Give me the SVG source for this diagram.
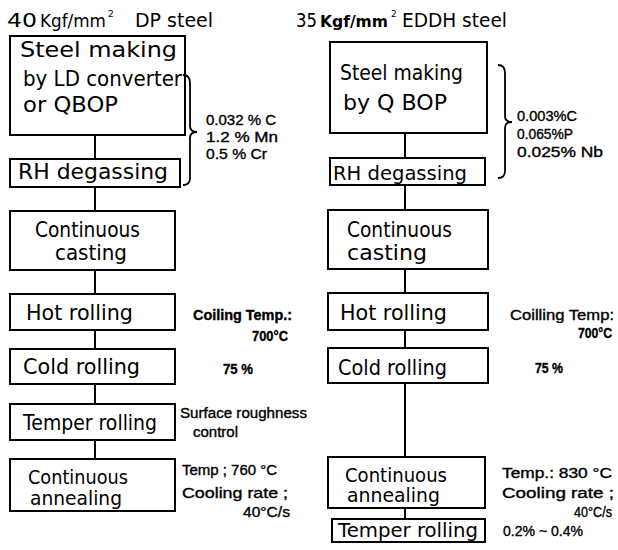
<svg xmlns="http://www.w3.org/2000/svg" width="618" height="550" viewBox="0 0 618 550">
<style>
.box{fill:#fff;stroke:#000;stroke-width:2}
.bt{font-family:"DejaVu Sans","Liberation Sans",sans-serif;font-size:21px;fill:#000}
.sm{font-size:19px}
.an{font-family:"Liberation Sans",Arial,sans-serif;font-size:14px;fill:#000;stroke:#000;stroke-width:0.35}
.ti{font-family:"DejaVu Sans","Liberation Sans",sans-serif;font-size:19px;fill:#000}
.ln{stroke:#000;stroke-width:2;fill:none}
.br{stroke:#000;stroke-width:1.8;fill:none}
</style>
<rect width="618" height="550" fill="#fff"/>

<g id="titles">
<text class="ti" x="7" y="27"><tspan textLength="30" lengthAdjust="spacingAndGlyphs">40</tspan><tspan x="40" font-size="17" textLength="66" lengthAdjust="spacingAndGlyphs">Kgf/mm</tspan><tspan x="108" y="17" font-size="9">2</tspan><tspan x="135" y="27" textLength="78" lengthAdjust="spacingAndGlyphs">DP  steel</tspan></text>
<text class="ti" x="296" y="27"><tspan textLength="21" lengthAdjust="spacingAndGlyphs">35</tspan><tspan x="320" font-size="15" font-weight="bold" textLength="68" lengthAdjust="spacingAndGlyphs">Kgf/mm</tspan><tspan x="391" y="17" font-size="9">2</tspan><tspan x="402" y="27" textLength="105" lengthAdjust="spacingAndGlyphs">EDDH  steel</tspan></text>
</g>

<g id="connectors">
<line class="ln" x1="95" y1="135" x2="95" y2="159"/>
<line class="ln" x1="95" y1="187" x2="95" y2="211"/>
<line class="ln" x1="95" y1="270" x2="95" y2="294"/>
<line class="ln" x1="95" y1="330" x2="95" y2="349"/>
<line class="ln" x1="95" y1="384" x2="95" y2="404"/>
<line class="ln" x1="95" y1="440" x2="95" y2="459"/>
<line class="ln" x1="405" y1="133" x2="405" y2="158"/>
<line class="ln" x1="405" y1="185" x2="405" y2="210"/>
<line class="ln" x1="405" y1="269" x2="405" y2="293"/>
<line class="ln" x1="405" y1="330" x2="405" y2="348"/>
<line class="ln" x1="405" y1="383" x2="405" y2="457"/>
<line class="ln" x1="405" y1="508" x2="405" y2="519"/>
</g>

<g id="L-steelmaking">
<rect class="box" x="10" y="36" width="175" height="99"/>
<text class="bt" x="20" y="57" font-size="22" textLength="157" lengthAdjust="spacingAndGlyphs">Steel  making</text>
<text class="bt" x="23" y="86" textLength="159" lengthAdjust="spacingAndGlyphs">by LD converter</text>
<text class="bt" x="23" y="112" textLength="95" lengthAdjust="spacingAndGlyphs">or  QBOP</text>
</g>
<g id="L-rh">
<rect class="box" x="10" y="159" width="170" height="28"/>
<text class="bt" x="18" y="179" textLength="150" lengthAdjust="spacingAndGlyphs">RH  degassing</text>
</g>
<g id="L-cc">
<rect class="box" x="10" y="211" width="165" height="59"/>
<text class="bt" x="35" y="237" textLength="105" lengthAdjust="spacingAndGlyphs">Continuous</text>
<text class="bt" x="55" y="260" textLength="72" lengthAdjust="spacingAndGlyphs">casting</text>
</g>
<g id="L-hr">
<rect class="box" x="10" y="294" width="165" height="36"/>
<text class="bt" x="26" y="320" textLength="107" lengthAdjust="spacingAndGlyphs">Hot  rolling</text>
</g>
<g id="L-cr">
<rect class="box" x="10" y="349" width="165" height="35"/>
<text class="bt" x="23" y="374" textLength="117" lengthAdjust="spacingAndGlyphs">Cold  rolling</text>
</g>
<g id="L-tr">
<rect class="box" x="10" y="404" width="165" height="36"/>
<text class="bt" x="23" y="430" textLength="134" lengthAdjust="spacingAndGlyphs">Temper  rolling</text>
</g>
<g id="L-ca">
<rect class="box" x="10" y="459" width="165" height="52"/>
<text class="bt sm" x="28" y="484" textLength="100" lengthAdjust="spacingAndGlyphs">Continuous</text>
<text class="bt sm" x="30" y="505" textLength="92" lengthAdjust="spacingAndGlyphs">annealing</text>
</g>

<g id="R-steelmaking">
<rect class="box" x="330" y="42" width="157" height="91"/>
<text class="bt" x="340" y="80" textLength="123" lengthAdjust="spacingAndGlyphs">Steel  making</text>
<text class="bt" x="343" y="110" textLength="104" lengthAdjust="spacingAndGlyphs">by    Q BOP</text>
</g>
<g id="R-rh">
<rect class="box" x="330" y="158" width="155" height="27"/>
<text class="bt sm" x="333" y="180" textLength="134" lengthAdjust="spacingAndGlyphs">RH degassing</text>
</g>
<g id="R-cc">
<rect class="box" x="328" y="210" width="160" height="59"/>
<text class="bt" x="347" y="237" textLength="105" lengthAdjust="spacingAndGlyphs">Continuous</text>
<text class="bt" x="347" y="260" textLength="80" lengthAdjust="spacingAndGlyphs">casting</text>
</g>
<g id="R-hr">
<rect class="box" x="328" y="293" width="160" height="37"/>
<text class="bt" x="340" y="320" textLength="107" lengthAdjust="spacingAndGlyphs">Hot  rolling</text>
</g>
<g id="R-cr">
<rect class="box" x="328" y="348" width="160" height="35"/>
<text class="bt" x="338" y="375" textLength="109" lengthAdjust="spacingAndGlyphs">Cold  rolling</text>
</g>
<g id="R-ca">
<rect class="box" x="328" y="457" width="157" height="51"/>
<text class="bt sm" x="345" y="482" textLength="102" lengthAdjust="spacingAndGlyphs">Continuous</text>
<text class="bt sm" x="347" y="502" textLength="93" lengthAdjust="spacingAndGlyphs">annealing</text>
</g>
<g id="R-tr">
<rect class="box" x="332" y="519" width="153" height="23"/>
<text class="bt sm" x="338" y="537" textLength="140" lengthAdjust="spacingAndGlyphs">Temper  rolling</text>
</g>

<g id="L-annotations">
<path class="br" d="M183,75 Q190,75 190,83 L190,126 Q190,132 197,132 Q190,132 190,138 L190,178 Q190,185 183,185"/>
<text class="an" x="206" y="125" font-size="15" textLength="70" lengthAdjust="spacingAndGlyphs">0.032 % C</text>
<text class="an" x="206" y="142" font-size="15" textLength="72" lengthAdjust="spacingAndGlyphs">1.2 %  Mn</text>
<text class="an" x="206" y="159" font-size="15" textLength="61" lengthAdjust="spacingAndGlyphs">0.5 %  Cr</text>
<text class="an" x="193" y="320" font-weight="bold" textLength="99" lengthAdjust="spacingAndGlyphs">Coiling Temp.:</text>
<text class="an" x="252" y="341" font-weight="bold" textLength="36" lengthAdjust="spacingAndGlyphs">700°C</text>
<text class="an" x="223" y="374" font-weight="bold" textLength="30" lengthAdjust="spacingAndGlyphs">75 %</text>
<text class="an" x="180" y="418" textLength="127" lengthAdjust="spacingAndGlyphs">Surface  roughness</text>
<text class="an" x="193" y="437" textLength="45" lengthAdjust="spacingAndGlyphs">control</text>
<text class="an" x="182" y="475" textLength="95" lengthAdjust="spacingAndGlyphs">Temp ; 760 °C</text>
<text class="an" x="182" y="498" font-size="15" textLength="106" lengthAdjust="spacingAndGlyphs">Cooling rate ;</text>
<text class="an" x="243" y="517" font-size="15" textLength="47" lengthAdjust="spacingAndGlyphs">40°C/s</text>
</g>

<g id="R-annotations">
<path class="br" d="M498,65 Q505,65 505,73 L505,116 Q505,122 512,122 Q505,122 505,128 L505,171 Q505,178 498,178"/>
<text class="an" x="517" y="121" textLength="60" lengthAdjust="spacingAndGlyphs">0.003%C</text>
<text class="an" x="517" y="139" textLength="56" lengthAdjust="spacingAndGlyphs">0.065%P</text>
<text class="an" x="517" y="157" textLength="86" lengthAdjust="spacingAndGlyphs">0.025% Nb</text>
<text class="an" x="510" y="320" font-size="15" textLength="104" lengthAdjust="spacingAndGlyphs">Coilling Temp:</text>
<text class="an" x="578" y="338" font-size="12" font-weight="bold" textLength="34" lengthAdjust="spacingAndGlyphs">700°C</text>
<text class="an" x="535" y="373" font-weight="bold" textLength="28" lengthAdjust="spacingAndGlyphs">75 %</text>
<text class="an" x="502" y="478" font-size="15" textLength="110" lengthAdjust="spacingAndGlyphs">Temp.: 830 °C</text>
<text class="an" x="502" y="498" font-size="15" textLength="112" lengthAdjust="spacingAndGlyphs">Cooling rate ;</text>
<text class="an" x="574" y="517" textLength="38" lengthAdjust="spacingAndGlyphs">40°C/s</text>
<text class="an" x="503" y="536" textLength="80" lengthAdjust="spacingAndGlyphs">0.2% ~ 0.4%</text>
</g>
</svg>
